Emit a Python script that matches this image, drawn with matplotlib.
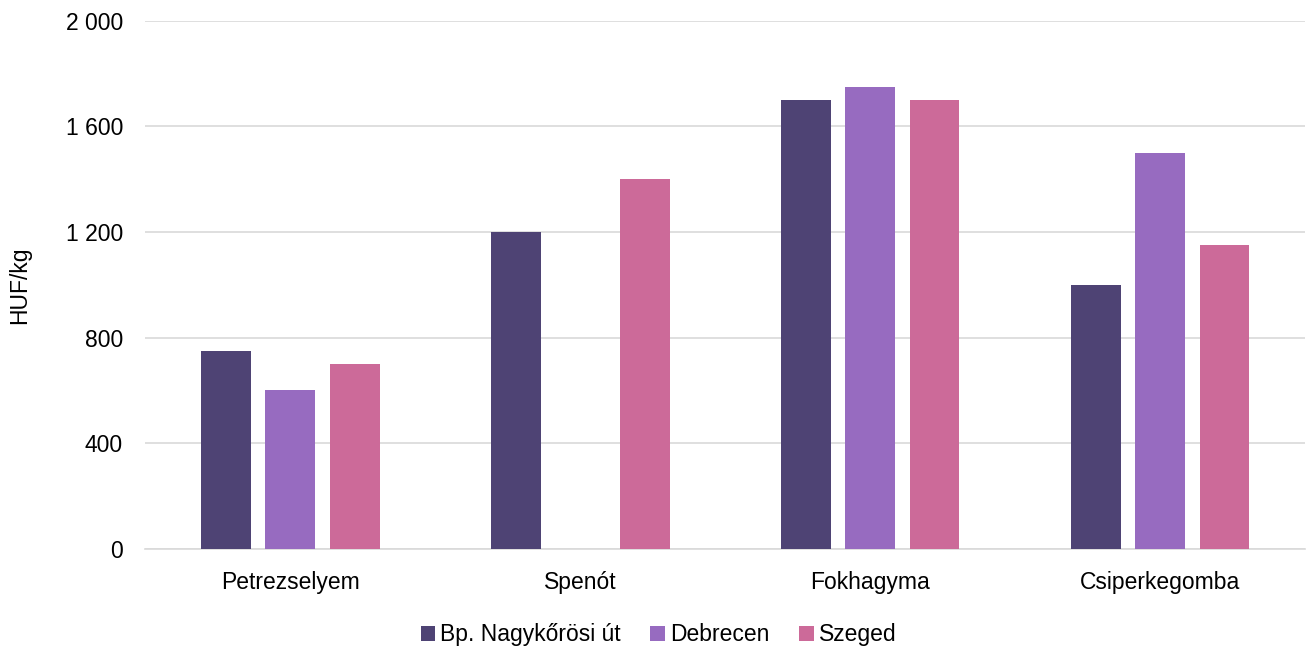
import numpy as np
import matplotlib
matplotlib.use('Agg')
import matplotlib.pyplot as plt
from matplotlib.ticker import FuncFormatter

plt.rcParams['font.family'] = ['Liberation Sans', 'DejaVu Sans']

categories = ['Petrezselyem', 'Spenót', 'Fokhagyma', 'Csiperkegomba']
series_names = ['Bp. Nagykőrösi út', 'Debrecen', 'Szeged']
bp_values = [750, 1200, 1700, 1000]
debrecen_values = [600, 0, 1750, 1500]
szeged_values = [700, 1400, 1700, 1150]
colors = ['#4e4374', '#976bc0', '#cc6a99']

fig = plt.figure(figsize=(13.09, 6.51), dpi=100)
ax = fig.add_axes([0.111, 0.157, 0.886, 0.811])

x = np.arange(len(categories))
width = 0.172
step = 0.222
for i, (vals, name) in enumerate(zip([bp_values, debrecen_values, szeged_values], series_names)):
    ax.bar(x + (i - 1) * step, vals, width, color=colors[i], label=name, zorder=3)

ax.set_xlim(-0.5, len(categories) - 0.5)
ax.set_ylim(0, 2000)
ax.set_yticks([0, 400, 800, 1200, 1600, 2000])
ax.yaxis.set_major_formatter(FuncFormatter(lambda v, p: f"{int(v):,}".replace(',', ' ')))
ax.set_xticks(x)
ax.set_xticklabels(categories)
ax.grid(axis='y', color='#d9d9d9', linewidth=1.2, zorder=0)
for s in ['top', 'right', 'left']:
    ax.spines[s].set_visible(False)
ax.spines['bottom'].set_color('#d9d9d9')
ax.spines['bottom'].set_linewidth(1.2)
ax.tick_params(axis='both', length=0, labelsize=16.5, colors='#000000')
ax.tick_params(axis='y', pad=16)
ax.tick_params(axis='x', pad=16)
ax.set_ylabel('HUF/kg', fontsize=16.5, labelpad=25)

# legend centred on the figure, not the axes
fig.legend(loc='center', bbox_to_anchor=(0.503, 0.025), ncol=3, frameon=False,
           fontsize=16.5, handlelength=0.65, handleheight=0.65, handletextpad=0.2,
           columnspacing=1.3)

fig.savefig('out.png', dpi=100)
